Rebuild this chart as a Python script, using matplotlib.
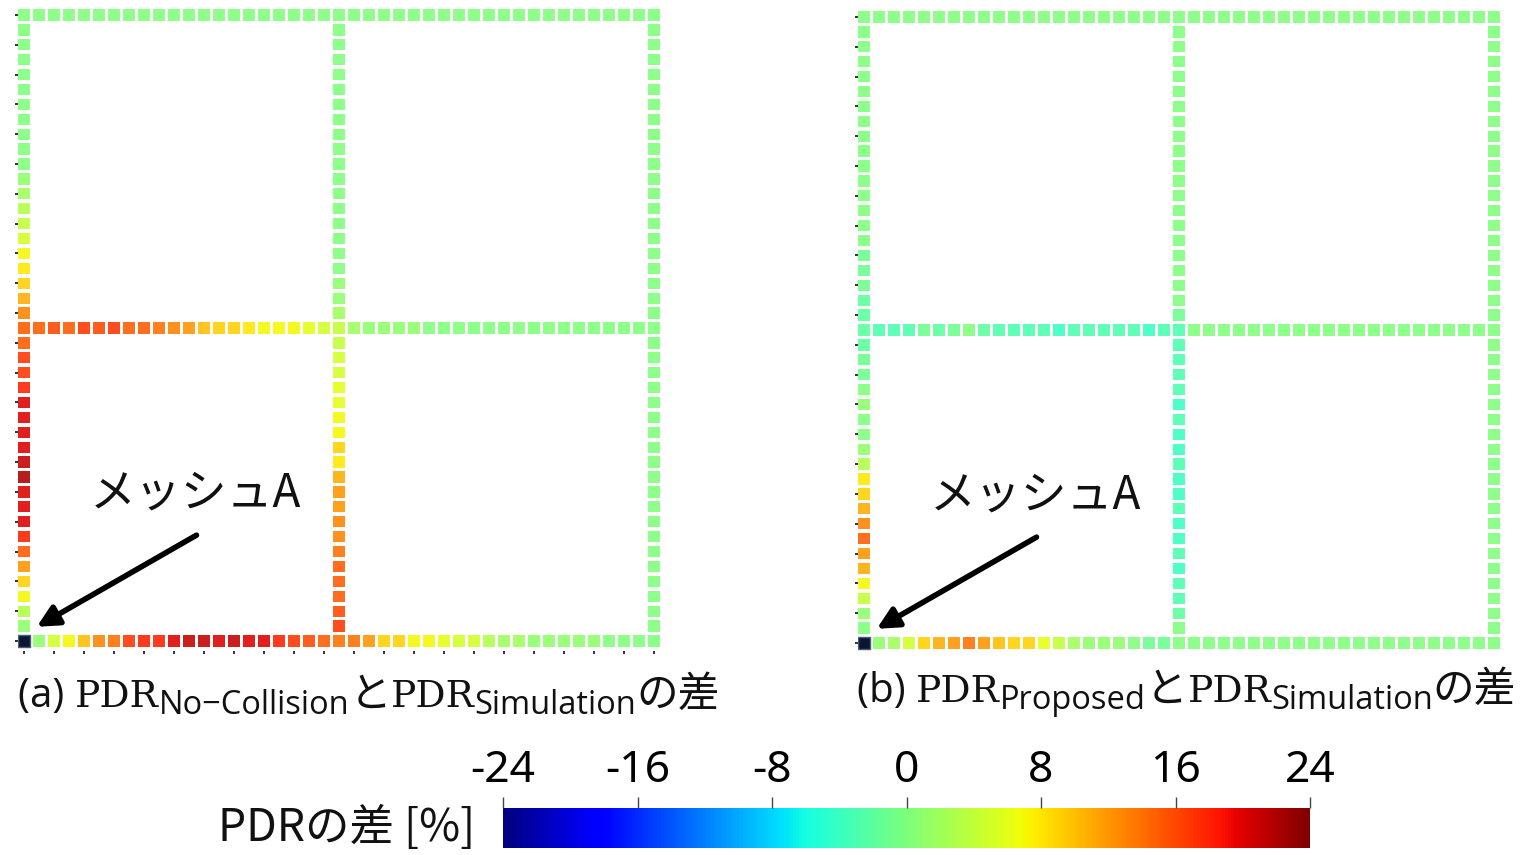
import numpy as np
import matplotlib
matplotlib.use("Agg")
import matplotlib.pyplot as plt
from matplotlib.colors import Normalize
from matplotlib.cm import ScalarMappable
from matplotlib.transforms import IdentityTransform

# ---------------- data (PDR difference [%]) ----------------
# rows indexed left->right (i = 0..42), columns bottom->top (j = 0..42)
GRID_N = 43
ROAD_IDX = [0, 21, 42]
MESH_A = (0, 0)

# panel (a): PDR_No-Collision - PDR_Simulation
a_bottom_row = [0, 1, 5, 7, 10, 13, 14, 17, 18, 18, 20, 21, 21, 20, 21, 20, 20, 18, 17, 16, 15,
                14, 14, 12, 9, 9, 7, 7, 6, 5, 5, 3, 2, 2, 1, 1, 1, 1, 1, 0, 0, 0, 0]
a_middle_row = [15, 15, 16, 15, 17, 16, 17, 15, 15, 14, 13, 12, 10, 9, 9, 8, 7, 7, 7, 6, 5,
                4, 2, 1, 1, 1, 1, 0, 0, 0, 0, 0, 0, 0, 0, 0, 0, 0, 0, 0, 0, 0, 0]
a_top_row = [0, 0, 0, 0, 0, 0, 0, 0, 0, 0, 0, 0, 0, 0, 0, 0, 0, 0, 0, 0, 0,
             0, 0, 0, 0, 0, 0, 0, 0, 0, 0, 0, 0, 0, 0, 0, 0, 0, 0, 0, 0, 0, 0]
a_left_col = [0, 1, 3, 7, 9, 12, 15, 18, 20, 20, 20, 22, 21, 20, 20, 20, 20, 18, 17, 17, 15,
              15, 13, 11, 9, 8, 7, 5, 4, 3, 2, 1, 0, 0, 0, 0, 0, 0, 0, 0, 0, 0, 0]
a_middle_col = [14, 17, 16, 15, 15, 15, 14, 13, 13, 12, 12, 11, 8, 9, 7, 7, 6, 6, 5, 5, 4,
                4, 2, 1, 1, 0, 0, 0, 0, 0, 0, 0, 0, 0, 0, 0, 0, 0, 0, 0, 0, 0, 0]
a_right_col = [0, 0, 0, 0, 0, 0, 0, 0, 0, 0, 0, 0, 0, 0, 0, 0, 0, 0, 0, 0, 0,
               0, 0, 0, 0, 0, 0, 0, 0, 0, 0, 0, 0, 0, 0, 0, 0, 0, 0, 0, 0, 0, 0]

# panel (b): PDR_Proposed - PDR_Simulation
b_bottom_row = [0, 1, 2, 5, 9, 11, 12, 14, 12, 10, 9, 9, 6, 4, 2, 1, 1, 1, 0, -1, -1,
                0, 0, 0, 0, 0, 0, 0, 0, 0, 0, 0, 0, 0, 0, 0, 0, 0, 0, 0, 0, 0, 0]
b_middle_row = [-2, -3, -3, -3, -1, -2, -1, 0, -2, -3, -3, -3, -3, -4, -3, -3, -3, -3, -3, -4, -3,
                -3, 0, 0, 0, 0, 0, 0, 0, 0, 0, 0, 0, 0, 0, 0, 0, 0, 0, 0, 0, 0, 0]
b_top_row = [0, 0, 0, 0, 0, 0, 0, 0, 0, 0, 0, 0, 0, 0, 0, 0, 0, 0, 0, 0, 0,
             0, 0, 0, 0, 0, 0, 0, 0, 0, 0, 0, 0, 0, 0, 0, 0, 0, 0, 0, 0, 0, 0]
b_left_col = [0, 0, 1, 4, 7, 11, 12, 15, 13, 11, 9, 8, 3, 1, 0, 0, 1, 0, -1, -1, -2,
              -2, -2, -2, -1, -1, -1, 0, 0, 0, 0, 0, 0, 0, 0, 0, 0, 0, 0, 0, 0, 0, 0]
b_middle_col = [0, 0, -2, -3, -3, -4, -3, -4, -4, -3, -4, -4, -3, -4, -4, -3, -4, -3, -3, -3, -3,
                -3, -1, 0, 0, 0, 0, 0, 0, 0, 0, 0, 0, 0, 0, 0, 0, 0, 0, 0, 0, 0, 0]
b_right_col = [0, 0, 0, 0, 0, 0, 0, 0, 0, 0, 0, 0, 0, 0, 0, 0, 0, 0, 0, 0, 0,
               0, 0, 0, 0, 0, 0, 0, 0, 0, 0, 0, 0, 0, 0, 0, 0, 0, 0, 0, 0, 0, 0]

CBAR_TICKS = [-24, -16, -8, 0, 8, 16, 24]
VMIN, VMAX = -24, 24

# ---------------- figure ----------------
W, H = 1524, 855
fig = plt.figure(figsize=(W / 100, H / 100), dpi=100)
fig.patch.set_facecolor("white")
cmap = plt.get_cmap("jet")
norm = Normalize(VMIN, VMAX)

JP = ["Noto Sans CJK JP", "DejaVu Sans"]


def collect(rows, cols):
    xs, ys, vs = [], [], []
    for jrow, vals in zip(ROAD_IDX, rows):
        for i, v in enumerate(vals):
            xs.append(i); ys.append(jrow); vs.append(v)
    for icol, vals in zip(ROAD_IDX, cols):
        for j, v in enumerate(vals):
            if j in ROAD_IDX:
                continue
            xs.append(icol); ys.append(j); vs.append(v)
    return np.array(xs), np.array(ys), np.array(vs, dtype=float)


def panel(left_px, top_px, rows, cols, bottom_ticks):
    x0, x1 = -0.4, 42.4
    y0, y1 = -0.65, 42.4
    wpx = (x1 - x0) * 15.0
    hpx = (y1 - y0) * 14.905
    ax = fig.add_axes([left_px / W, 1 - (top_px + hpx) / H, wpx / W, hpx / H])
    ax.set_xlim(x0, x1)
    ax.set_ylim(y0, y1)
    xs, ys, vs = collect(rows, cols)
    ax.scatter(xs, ys, c=vs, cmap=cmap, norm=norm, marker="s", s=66,
               linewidths=0, alpha=0.88, zorder=2)
    ax.scatter([MESH_A[0]], [MESH_A[1]], c="#0d1630", marker="s", s=72,
               linewidths=1.0, edgecolors="#4a5a80", zorder=3)
    for sp in ax.spines.values():
        sp.set_visible(False)
    ax.set_yticks(np.arange(0, 43, 2))
    ax.set_xticks(np.arange(0, 43, 2) if bottom_ticks else [])
    ax.tick_params(length=2, width=1.4, color="#333333", labelleft=False,
                   labelbottom=False)
    ax.set_facecolor("none")
    ax.annotate("", xy=(0.85, 0.95), xytext=(11.5, 7.1), xycoords="data",
                arrowprops=dict(arrowstyle="-|>", lw=4, color="black",
                                mutation_scale=32, shrinkA=0, shrinkB=0),
                annotation_clip=False)
    ax.text(11.4, 9.9, "メッシュA", ha="center", va="center", fontsize=33,
            family=JP, color="#111111")
    return ax


panel(18, 9, [a_bottom_row, a_middle_row, a_top_row],
      [a_left_col, a_middle_col, a_right_col], True)
panel(858, 11, [b_bottom_row, b_middle_row, b_top_row],
      [b_left_col, b_middle_col, b_right_col], False)

# ---------------- captions ----------------
fig.canvas.draw()
renderer = fig.canvas.get_renderer()


def caption(x, base_from_top, pieces):
    # dy > 0 moves a piece down (subscript)
    for s, size, fam, dy in pieces:
        t = fig.text(x, H - base_from_top - dy, s, fontsize=size, family=fam,
                     va="baseline", ha="left", transform=IdentityTransform(),
                     color="#111111")
        bb = t.get_window_extent(renderer)
        x += bb.width


SER = ["DejaVu Serif"]
SAN = ["Open Sans", "DejaVu Sans"]
caption(18, 707, [("(a) ", 29, SAN, 0), ("PDR", 27, SER, 0),
                  ("No\u2212Collision", 23.5, SAN, 7), ("と", 30, JP, 0),
                  ("PDR", 27, SER, 0), ("Simulation", 23.5, SAN, 7),
                  ("の差", 30, JP, 0)])
caption(857, 702, [("(b) ", 29, SAN, 0), ("PDR", 27, SER, 0),
                   ("Proposed", 23.5, SAN, 7), ("と", 30, JP, 0),
                   ("PDR", 27, SER, 0), ("Simulation", 23.5, SAN, 7),
                   ("の差", 30, JP, 0)])

# ---------------- colorbar ----------------
cax = fig.add_axes([503 / W, (H - 848) / H, 807 / W, 40 / H])
sm = ScalarMappable(norm=norm, cmap=cmap)
cb = fig.colorbar(sm, cax=cax, orientation="horizontal", ticks=CBAR_TICKS)
cb.outline.set_visible(False)
cax.xaxis.set_ticks_position("top")
cax.xaxis.set_label_position("top")
cax.tick_params(axis="x", length=8, width=1, color="#444444", pad=3,
                labelsize=32)
cax.set_xticklabels([str(t) for t in CBAR_TICKS], family="Noto Sans")
fig.text(475 / W, (H - 828) / H, "PDRの差 [%]", ha="right", va="center",
         fontsize=32, family=JP, color="#111111")

fig.savefig("out.png", dpi=100, facecolor="white")
